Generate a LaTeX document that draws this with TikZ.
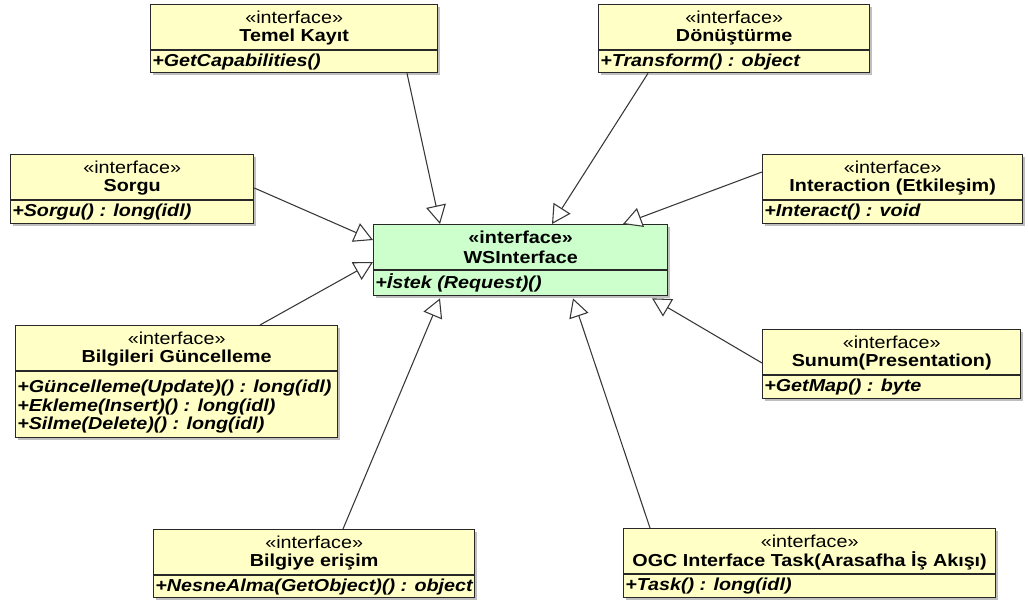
\documentclass[tikz,border=0pt]{standalone}
\usepackage{fontspec}
\setmainfont{Liberation Sans}[FakeStretch=1.14]
\usetikzlibrary{arrows.meta,calc,shadows}

\definecolor{ifill}{RGB}{255,255,198}
\definecolor{wsfill}{RGB}{204,255,204}
\definecolor{edge}{RGB}{40,40,40}
\definecolor{wire}{RGB}{55,55,55}

% one interface class: name, top-left corner, width, height, fill, title
\newcommand\umliface[7][]{%
  \node[box, fill=#6, minimum width=#4*0.75pt, minimum height=#5*0.75pt] (#2) at (#3) {};
  \node[stereo, #1] at ($(#2.north)+(0,13)$) {«interface»};
  \node[title] at ($(#2.north)+(0,33)$) {#7};
  \draw[sepline] ($(#2.north west)+(0,46)$) -- ($(#2.north east)+(0,46)$);
}
\newcommand\umlop[3]{% box, offset from top, text
  \node[op] at ($(#1.north west)+(2,#2)$) {#3};
}

\begin{document}
\begin{tikzpicture}[x=0.75pt,y=-0.75pt,
  box/.style={draw=edge, line width=1pt, anchor=north west, inner sep=0pt,
    drop shadow={shadow xshift=1.8pt, shadow yshift=-1.8pt, fill=black, opacity=0.25}},
  sepline/.style={draw=edge, line width=0.9pt},
  stereo/.style={inner sep=0pt, font=\fontsize{13}{15}\selectfont},
  title/.style={inner sep=0pt, font=\fontsize{13}{15}\selectfont\bfseries},
  op/.style={inner sep=0pt, anchor=west, font=\fontsize{13}{15}\selectfont\bfseries\itshape},
  realize/.style={draw=wire, line width=0.8pt, line join=miter,
    -{Triangle[open, fill=white, length=14pt, width=15pt]}},
]
\useasboundingbox (0,0) rectangle (1028,600);

% interface classes
\umliface{temel}{150,4}{287}{68}{ifill}{Temel Kayıt}
\umlop{temel}{58}{+GetCapabilities()}

\umliface{donus}{598,4}{271}{68}{ifill}{Dönüştürme}
\umlop{donus}{58}{+Transform() : object}

\umliface{sorgu}{10,154}{243}{69}{ifill}{Sorgu}
\umlop{sorgu}{58}{+Sorgu() : long(idl)}

\umliface{inter}{762,154}{260}{69}{ifill}{Interaction (Etkileşim)}
\umlop{inter}{58}{+Interact() : void}

\umliface[font=\fontsize{13}{15}\selectfont\bfseries]{ws}{373,224}{294}{71}{wsfill}{WSInterface}
\umlop{ws}{59}{+İstek (Request)()}

\umliface{bilg}{15,325}{322}{112}{ifill}{Bilgileri Güncelleme}
\umlop{bilg}{63}{+Güncelleme(Update)() : long(idl)}
\umlop{bilg}{82}{+Ekleme(Insert)() : long(idl)}
\umlop{bilg}{100}{+Silme(Delete)() : long(idl)}

\umliface{sunum}{762,329}{258}{69}{ifill}{Sunum(Presentation)}
\umlop{sunum}{58}{+GetMap() : byte}

\umliface{erisim}{153,529}{321}{68}{ifill}{Bilgiye erişim}
\umlop{erisim}{58}{+NesneAlma(GetObject)() : object}

\umliface{ogc}{623,528}{372}{69}{ifill}{OGC Interface Task(Arasafha İş Akışı)}
\umlop{ogc}{58}{+Task() : long(idl)}

% realization connectors towards WSInterface
\draw[realize] ($(temel.south west)+(257,0)$) -- ($(ws.north west)+(67,0)$);
\draw[realize] ($(donus.south west)+(50,0)$) -- ($(ws.north west)+(179,0)$);
\draw[realize] ($(sorgu.north east)+(0,34)$) -- ($(ws.north west)+(0,16)$);
\draw[realize] ($(inter.north west)+(0,18)$) -- ($(ws.north west)+(250,0)$);
\draw[realize] ($(bilg.north west)+(245,0)$) -- ($(ws.north west)+(0,38)$);
\draw[realize] ($(sunum.north west)+(0,34)$) -- ($(ws.south west)+(279,2)$);
\draw[realize] ($(erisim.north west)+(190,0)$) -- ($(ws.south west)+(67,2)$);
\draw[realize] ($(ogc.north west)+(27,0)$) -- ($(ws.south west)+(200,2)$);
\end{tikzpicture}
\end{document}
